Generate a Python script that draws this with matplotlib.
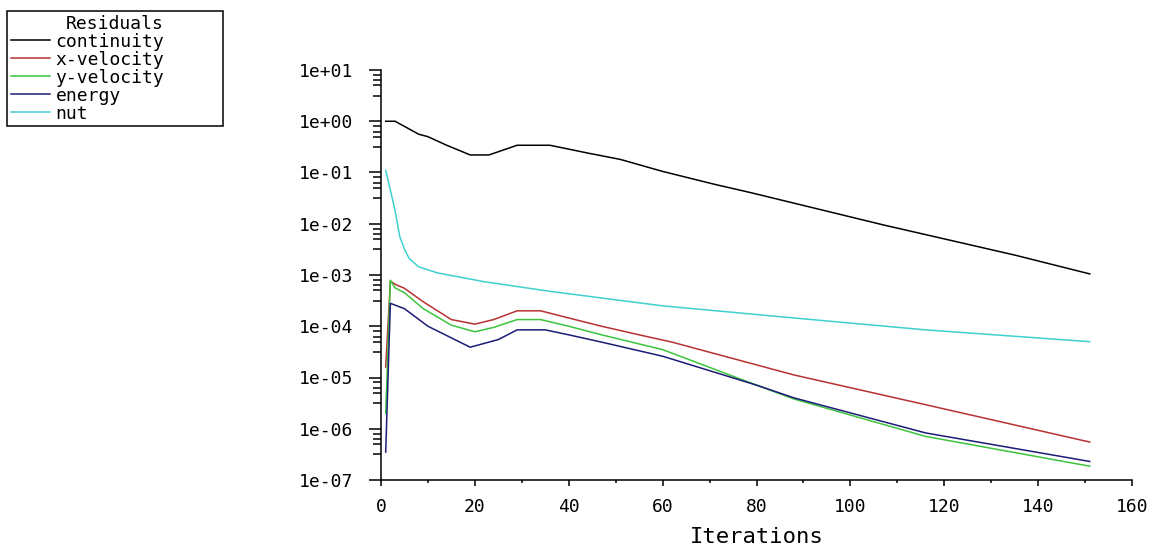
"""Plot solver residual history on a log scale."""

from __future__ import annotations

import matplotlib

matplotlib.use("Agg")

import matplotlib.pyplot as plt
from matplotlib.ticker import FixedLocator, LogLocator, NullFormatter

# Residual samples (iteration, value)
continuity_iter = [1, 3, 8, 10, 14, 19, 23, 29, 36, 44, 51, 60, 71, 79, 107, 135, 151]
continuity_vals = [1.0, 1.0, 0.56, 0.50, 0.34, 0.22, 0.22, 0.34, 0.34, 0.24, 0.18,
                   0.105, 0.059, 0.040, 0.0095, 0.00245, 0.00105]

x_velocity_iter = [1, 2, 3, 5, 9, 15, 20, 24, 29, 34, 40, 47, 55, 62, 88, 116, 151]
x_velocity_vals = [1.6e-5, 7.6e-4, 6.6e-4, 5.5e-4, 3.0e-4, 1.35e-4, 1.1e-4, 1.35e-4, 2.0e-4,
                   2.0e-4, 1.45e-4, 1.0e-4, 6.8e-5, 4.9e-5, 1.12e-5, 2.95e-6, 5.5e-7]

y_velocity_iter = [1, 2, 3, 5, 9, 15, 20, 24, 29, 34, 40, 47, 60, 80, 88, 116, 151]
y_velocity_vals = [2.0e-6, 7.9e-4, 5.6e-4, 4.5e-4, 2.2e-4, 1.05e-4, 7.8e-5, 9.5e-5, 1.35e-4,
                   1.35e-4, 1.0e-4, 6.8e-5, 3.5e-5, 7.1e-6, 3.8e-6, 7.1e-7, 1.86e-7]

energy_iter = [1, 2, 5, 10, 19, 25, 29, 35, 40, 47, 60, 80, 88, 116, 151]
energy_vals = [3.5e-7, 2.8e-4, 2.2e-4, 1.0e-4, 3.9e-5, 5.5e-5, 8.5e-5, 8.5e-5, 6.8e-5,
               4.9e-5, 2.6e-5, 7.1e-6, 4.0e-6, 8.3e-7, 2.3e-7]

nut_iter = [1, 2, 3, 4, 5, 6, 8, 12, 22, 36, 60, 88, 116, 151]
nut_vals = [0.11, 0.045, 0.018, 5.6e-3, 3.2e-3, 2.1e-3, 1.45e-3, 1.1e-3, 7.4e-4, 4.8e-4,
            2.5e-4, 1.45e-4, 8.5e-5, 5.0e-5]

series_labels = ["continuity", "x-velocity", "y-velocity", "energy", "nut"]
series_colors = ["#000000", "#b83232", "#3cc43c", "#1c1c78", "#40d0d0"]

y_ticks = [1e-7, 1e-6, 1e-5, 1e-4, 1e-3, 1e-2, 1e-1, 1e0, 1e1]
y_tick_labels = ["1e-07", "1e-06", "1e-05", "1e-04", "1e-03", "1e-02", "1e-01", "1e+00", "1e+01"]
x_ticks = [0, 20, 40, 60, 80, 100, 120, 140, 160]

FONT = "DejaVu Sans Mono"


def plot_residuals(output_path: str) -> None:
    """Draw the residual curves in the old Scilab style."""
    fig = plt.figure(figsize=(11.52, 5.59), dpi=100)
    ax = fig.add_axes([381 / 1152, 1 - 480 / 559, 751 / 1152, 410 / 559])

    series = [
        (continuity_iter, continuity_vals),
        (x_velocity_iter, x_velocity_vals),
        (y_velocity_iter, y_velocity_vals),
        (energy_iter, energy_vals),
        (nut_iter, nut_vals),
    ]
    for (iters, vals), label, color in zip(series, series_labels, series_colors):
        ax.plot(iters, vals, color=color, linewidth=1.1, label=label)

    ax.set_yscale("log")
    ax.set_ylim(1e-7, 1e1)
    ax.set_xlim(0, 160)

    ax.yaxis.set_major_locator(FixedLocator(y_ticks))
    ax.set_yticklabels(y_tick_labels, fontfamily=FONT, fontsize=13)
    ax.yaxis.set_minor_locator(LogLocator(base=10, subs=(3.16, 5.0, 6.3, 8.0), numticks=20))
    ax.yaxis.set_minor_formatter(NullFormatter())

    ax.set_xticks(x_ticks)
    ax.set_xticklabels([str(t) for t in x_ticks], fontfamily=FONT, fontsize=13)
    ax.set_xticks(range(10, 160, 20), minor=True)

    ax.tick_params(axis="y", which="major", direction="out", length=9, width=1.1, pad=11)
    ax.tick_params(axis="y", which="minor", direction="out", length=6, width=1.1)
    ax.tick_params(axis="x", which="major", direction="out", length=4, width=1.1, pad=9)
    ax.tick_params(axis="x", which="minor", direction="out", length=2.5, width=1.1)

    for side in ("top", "right"):
        ax.spines[side].set_visible(False)
    for side in ("left", "bottom"):
        ax.spines[side].set_linewidth(1.1)

    ax.set_xlabel("Iterations", fontfamily=FONT, fontsize=16)
    ax.xaxis.set_label_coords(0.5, -0.139)
    ax.xaxis.label.set_va("center")

    # legend box is wider than its entries in the original, so stretch it
    leg = fig.legend(
        loc="upper left",
        bbox_to_anchor=(7 / 1152, 1 - 126 / 559, 216 / 1152, 115 / 559),
        mode="expand",
        borderaxespad=0,
        title="Residuals",
        prop={"family": FONT, "size": 13},
        title_fontproperties={"family": FONT, "size": 13},
        frameon=True,
        fancybox=False,
        handlelength=2.2,
        handletextpad=0.28,
        labelspacing=0.0,
        borderpad=0.2,
    )
    frame = leg.get_frame()
    frame.set_edgecolor("black")
    frame.set_linewidth(1.1)
    frame.set_alpha(1)

    fig.savefig(output_path, dpi=100)


def main() -> None:
    plot_residuals("out.png")


if __name__ == "__main__":
    main()
